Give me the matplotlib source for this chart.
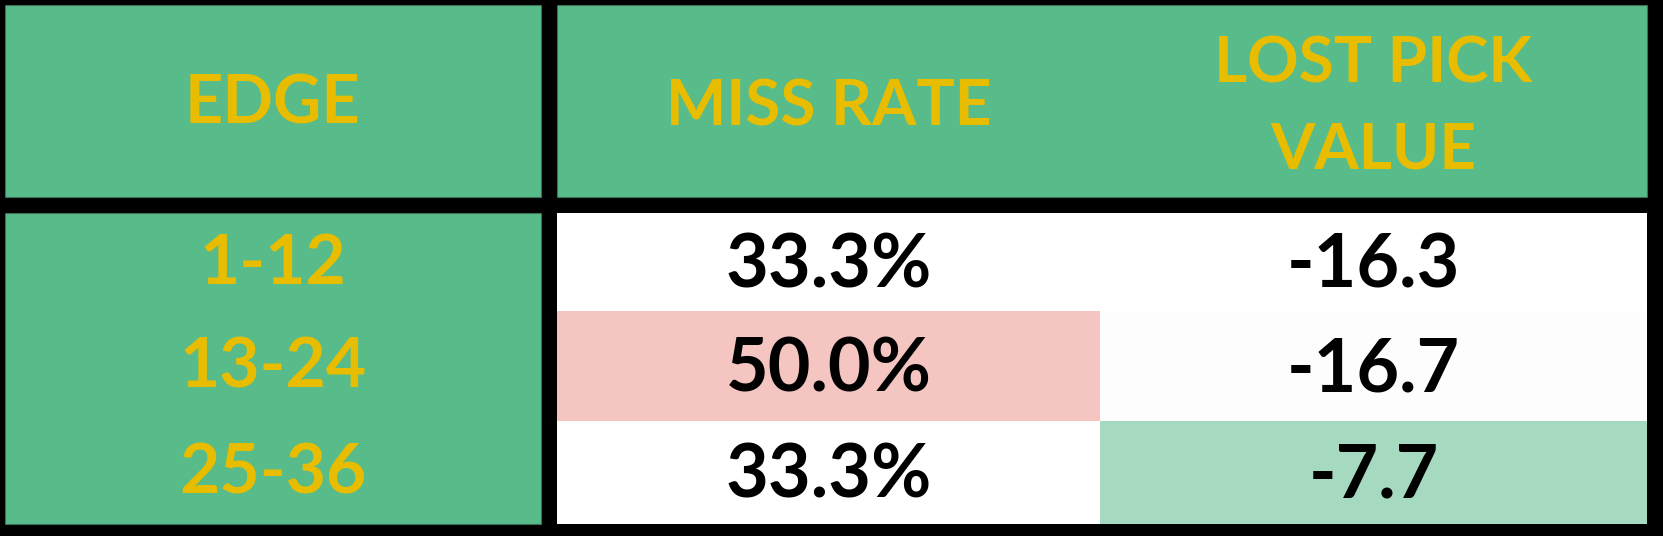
import matplotlib.pyplot as plt
from matplotlib.patches import Rectangle

plt.rcParams['font.family'] = ['Lato', 'DejaVu Sans']

# table content
headers = ["MISS RATE", "LOST PICK\nVALUE"]
edge_header = "EDGE"
edges = ["1-12", "13-24", "25-36"]
miss_rate = [33.3, 50.0, 33.3]
lost_value = [-16.3, -16.7, -7.7]

# conditional-format fills (one per data cell)
miss_fill = ["#FFFFFF", "#F4C5C1", "#FFFFFF"]
lost_fill = ["#FFFFFF", "#FDFDFD", "#A5DAC0"]

GREEN = "#57BB8A"
YELLOW = "#E8BD00"
W, H = 1663, 536

# grid (pixels)
x_left = (5, 541)
x_cols = [(557, 1100), (1100, 1647)]
y_head = (5, 197)
y_rows = [(213, 311), (311, 421), (421, 524)]


def cell(ax, x0, x1, y0, y1, color, edge=None):
    ax.add_patch(Rectangle((x0, y0), x1 - x0, y1 - y0, facecolor=color,
                           edgecolor=edge or color, lw=0.8 if edge else 0))


fig = plt.figure(figsize=(W / 100, H / 100), dpi=100)
fig.patch.set_facecolor("black")
ax = fig.add_axes([0, 0, 1, 1])
ax.set_xlim(0, W)
ax.set_ylim(H, 0)
ax.axis("off")

# header row
cell(ax, *x_left, *y_head, GREEN, "#3F6F55")
cell(ax, x_cols[0][0], x_cols[1][1], *y_head, GREEN, "#3F6F55")
ax.text(sum(x_left) / 2, sum(y_head) / 2 + 4, edge_header, color=YELLOW,
        fontsize=48, fontweight="bold", ha="center", va="center")
for (x0, x1), h in zip(x_cols, headers):
    ax.text((x0 + x1) / 2, sum(y_head) / 2 + 6, h, color=YELLOW, fontsize=46,
            fontweight="bold", ha="center", va="center", linespacing=1.6)

# merged edge column
cell(ax, *x_left, y_rows[0][0], y_rows[-1][1], GREEN, "#3F6F55")
for (y0, y1), lab in zip(y_rows, edges):
    ax.text(sum(x_left) / 2, (y0 + y1) / 2 + 2, lab, color=YELLOW, fontsize=50,
            fontweight="bold", ha="center", va="center")

# data cells
for i, (y0, y1) in enumerate(y_rows):
    cell(ax, *x_cols[0], y0, y1, miss_fill[i])
    cell(ax, *x_cols[1], y0, y1, lost_fill[i])
    yc = (y0 + y1) / 2 + 4
    ax.text(sum(x_cols[0]) / 2, yc, f"{miss_rate[i]:.1f}%", color="black",
            fontsize=53, fontweight="bold", ha="center", va="center")
    ax.text(sum(x_cols[1]) / 2, yc, f"{lost_value[i]:.1f}", color="black",
            fontsize=53, fontweight="bold", ha="center", va="center")

fig.savefig("out.png", dpi=100, facecolor="black")
